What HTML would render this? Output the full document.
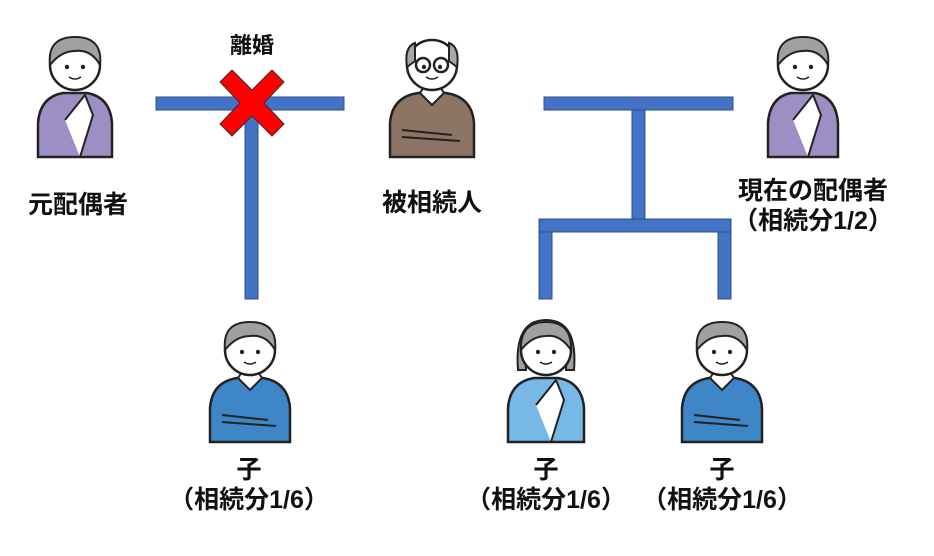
<!DOCTYPE html>
<html><head><meta charset="utf-8"><style>
html,body{margin:0;padding:0;background:#fff;}
body{width:934px;height:556px;overflow:hidden;position:relative;font-family:"Liberation Sans","Noto Sans CJK JP",sans-serif;}
.t{position:absolute;font-weight:bold;font-size:25px;color:#111;white-space:nowrap;transform:translateX(-50%);line-height:1;}
</style></head><body>
<svg width="934" height="556" style="position:absolute;left:0;top:0">
<defs>
<g id="head">
<circle cx="0" cy="30" r="25" fill="#fff" stroke="#222" stroke-width="2.5"/>
<circle cx="-8" cy="32" r="2.2" fill="#222"/><circle cx="8" cy="32" r="2.2" fill="#222"/>
<path d="M-6,42 Q0,46 6,42" fill="none" stroke="#222" stroke-width="1.5"/>
</g>
</defs>
<g fill="#4472C4" stroke="#2f4f8a" stroke-width="1">
<rect x="156" y="97" width="188" height="13"/>
<rect x="245" y="110" width="13" height="189"/>
<rect x="544" y="97" width="189" height="13"/>
<rect x="632" y="110" width="13" height="110"/>
<rect x="539" y="219" width="192" height="13"/>
<rect x="539" y="232" width="13" height="67"/>
<rect x="718" y="232" width="13" height="67"/>
</g>
<path d="M232,70 L252,90 L272,70 L284,82 L264,103 L284,124 L272,136 L252,116 L232,136 L220,124 L240,103 L220,82 Z" fill="#ff0000" stroke="#333" stroke-width="1"/>

<g transform="translate(75,35)">
<path d="M-37,122 L-37,88 Q-35,62 -12,58 L12,58 Q35,62 37,88 L37,122 Z" fill="#9d8fc4" stroke="#222" stroke-width="2.5"/>
<use href="#head"/>
<path d="M-25,30 Q-28,2 0,2 Q28,2 25,30 Q16,14 0,16 Q-14,16 -25,30 Z" fill="#a0a0a0" stroke="#222" stroke-width="2"/>
<path d="M-10,85 L10,60 L18,80 L5,122" fill="#fff" stroke="#222" stroke-width="2"/>
</g>
<g transform="translate(432,35)">
<path d="M-42,122 L-42,88 Q-40,62 -14,58 L14,58 Q40,62 42,88 L42,122 Z" fill="#8c7565" stroke="#222" stroke-width="2.5"/>
<path d="M-12,58 L0,70 L12,58 L8,52 L-8,52 Z" fill="#fff" stroke="#222" stroke-width="2"/>
<use href="#head"/>
<path d="M-25,32 Q-28,12 -17,8 L-17,26 Z M25,32 Q28,12 17,8 L17,26 Z" fill="#a8a8a8" stroke="#222" stroke-width="2"/>
<circle cx="-9" cy="30" r="7" fill="none" stroke="#222" stroke-width="2.5"/><circle cx="9" cy="30" r="7" fill="none" stroke="#222" stroke-width="2.5"/>
<path d="M-30,95 L20,100 M-30,102 L28,106" stroke="#222" stroke-width="2" fill="none"/>
</g>
<g transform="translate(803,35)">
<path d="M-35,122 L-35,88 Q-33,62 -12,58 L12,58 Q33,62 35,88 L35,122 Z" fill="#9d8fc4" stroke="#222" stroke-width="2.5"/>
<use href="#head"/>
<path d="M-25,30 Q-28,2 0,2 Q28,2 25,30 Q16,14 0,16 Q-14,16 -25,30 Z" fill="#a0a0a0" stroke="#222" stroke-width="2"/>
<path d="M-10,85 L10,60 L18,80 L5,122" fill="#fff" stroke="#222" stroke-width="2"/>
</g>
<g transform="translate(250,320)">
<path d="M-40,122 L-40,88 Q-38,62 -13,58 L13,58 Q38,62 40,88 L40,122 Z" fill="#3f86c8" stroke="#222" stroke-width="2.5"/>
<path d="M-12,58 L0,70 L12,58 L8,52 L-8,52 Z" fill="#fff" stroke="#222" stroke-width="2"/>
<use href="#head"/>
<path d="M-25,30 Q-28,2 0,2 Q28,2 25,30 Q16,14 0,16 Q-14,16 -25,30 Z" fill="#a0a0a0" stroke="#222" stroke-width="2"/>
<path d="M-28,95 L18,100 M-28,102 L26,106" stroke="#222" stroke-width="2" fill="none"/>
</g>
<g transform="translate(546,320)">
<path d="M-38,122 L-38,88 Q-36,62 -12,58 L12,58 Q36,62 38,88 L38,122 Z" fill="#78b8e6" stroke="#222" stroke-width="2.5"/>
<path d="M-28,50 Q-32,0 0,0 Q32,0 28,50 L20,50 Q22,20 0,16 Q-22,20 -20,50 Z" fill="#a0a0a0" stroke="#222" stroke-width="2"/>
<use href="#head"/>
<path d="M-25,30 Q-26,2 0,2 Q26,2 25,30 Q14,14 0,16 Q-14,16 -25,30 Z" fill="#a0a0a0" stroke="#222" stroke-width="2"/>
<path d="M-10,85 L10,60 L18,80 L5,122" fill="#fff" stroke="#222" stroke-width="2"/>
</g>
<g transform="translate(722,320)">
<path d="M-40,122 L-40,88 Q-38,62 -13,58 L13,58 Q38,62 40,88 L40,122 Z" fill="#3f86c8" stroke="#222" stroke-width="2.5"/>
<path d="M-12,58 L0,70 L12,58 L8,52 L-8,52 Z" fill="#fff" stroke="#222" stroke-width="2"/>
<use href="#head"/>
<path d="M-25,30 Q-28,2 0,2 Q28,2 25,30 Q16,14 0,16 Q-14,16 -25,30 Z" fill="#a0a0a0" stroke="#222" stroke-width="2"/>
<path d="M-28,95 L18,100 M-28,102 L26,106" stroke="#222" stroke-width="2" fill="none"/>
</g>
</svg>
<div class="t" style="left:252px;top:35px;font-size:22px">離婚</div>
<div class="t" style="left:78px;top:193px">元配偶者</div>
<div class="t" style="left:432px;top:191px">被相続人</div>
<div class="t" style="left:813px;top:179px">現在の配偶者</div>
<div class="t" style="left:813px;top:209px">（相続分1/2）</div>
<div class="t" style="left:249px;top:458px">子</div>
<div class="t" style="left:249px;top:488px">（相続分1/6）</div>
<div class="t" style="left:546px;top:458px">子</div>
<div class="t" style="left:546px;top:488px">（相続分1/6）</div>
<div class="t" style="left:722px;top:458px">子</div>
<div class="t" style="left:722px;top:488px">（相続分1/6）</div>
</body></html>
